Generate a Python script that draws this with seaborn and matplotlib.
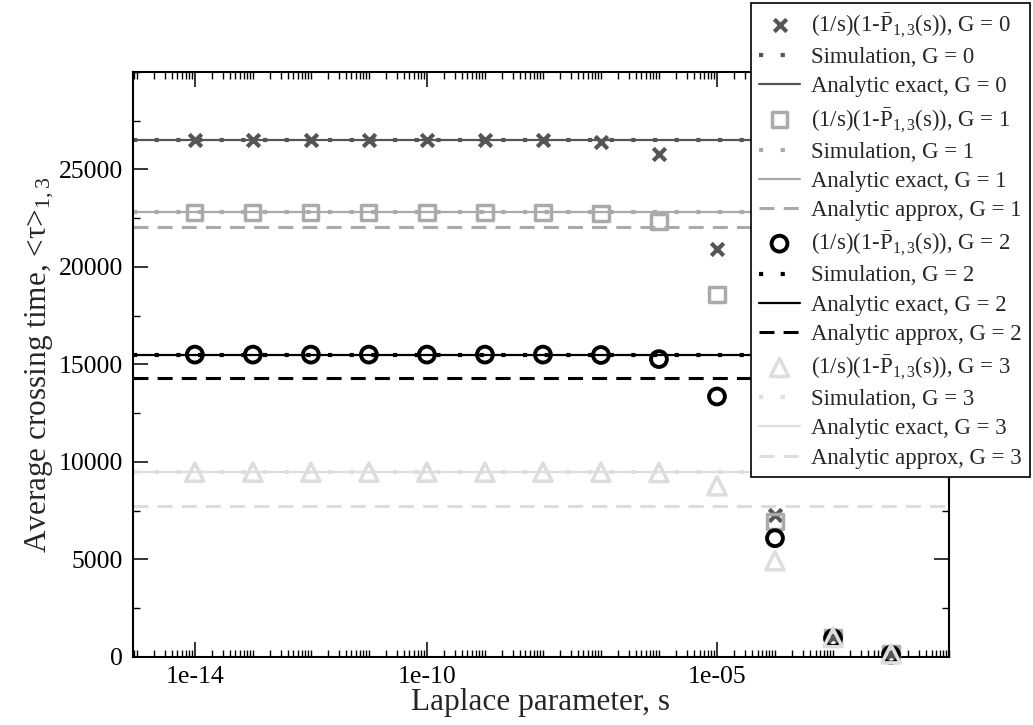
import numpy as np
import pandas as pd
import matplotlib
matplotlib.use("Agg")
import matplotlib.pyplot as plt
from matplotlib.ticker import FixedLocator, LogLocator, MultipleLocator, NullFormatter, FixedFormatter
import seaborn as sns

# ---------------- data ----------------
s_values = [1e-14, 1e-13, 1e-12, 1e-11, 1e-10, 1e-9, 1e-8, 1e-7, 1e-6, 1e-5, 1e-4, 1e-3, 1e-2]

laplace_G0 = [26500, 26500, 26500, 26500, 26500, 26500, 26500, 26420, 25800, 20930, 7280, 1000, 150]
laplace_G1 = [22800, 22800, 22800, 22800, 22800, 22800, 22800, 22750, 22340, 18580, 6930, 980, 140]
laplace_G2 = [15500, 15500, 15500, 15500, 15500, 15500, 15500, 15480, 15270, 13350, 6080, 950, 100]
laplace_G3 = [9470, 9470, 9470, 9470, 9470, 9470, 9470, 9460, 9450, 8770, 4920, 980, 150]

simulation = [26500, 22800, 15500, 9470]       # G = 0..3
analytic_exact = [26500, 22800, 15500, 9470]   # G = 0..3
analytic_approx = [None, 22030, 14300, 7750]   # G = 1..3 (none for G = 0)

G_values = [0, 1, 2, 3]
x_limits = [8.5e-16, 1e-1]
y_limits = [0, 30000]
x_major_ticks = [1e-14, 1e-10, 1e-5]
x_major_labels = ["1e-14", "1e-10", "1e-05"]
y_major_ticks = [0, 5000, 10000, 15000, 20000, 25000]

# ---------------- style ----------------
sns.set_style("ticks")
plt.rcParams["font.family"] = ["Liberation Serif", "DejaVu Serif"]
plt.rcParams["mathtext.fontset"] = "custom"
plt.rcParams["mathtext.rm"] = "Liberation Serif"
plt.rcParams["mathtext.it"] = "Liberation Serif:italic"
plt.rcParams["mathtext.bf"] = "Liberation Serif:bold"

colors = ["#555555", "#aaaaaa", "#000000", "#dddddd"]
markers = ["x", "s", "o", "^"]
marker_sizes = [80, 120, 130, 170]
marker_lw = [3.0, 2.5, 2.8, 2.5]

fig = plt.figure(figsize=(10.33, 7.25), dpi=100)
ax = fig.add_axes([0.1285, 0.0942, 0.7902, 0.8065])

laplace_all = [laplace_G0, laplace_G1, laplace_G2, laplace_G3]
for g, col, mk, ms, mlw in zip(G_values, colors, markers, marker_sizes, marker_lw):
    df = pd.DataFrame({"s": s_values, "tau": laplace_all[g]})
    lab = r"(1/s)(1-$\bar{\mathrm{P}}_{1,3}$(s)), G = %d" % g
    if mk == "x":
        sns.scatterplot(data=df, x="s", y="tau", marker=mk, s=ms, color=col,
                        linewidth=mlw, ax=ax, clip_on=False, zorder=3, label=lab, legend=False)
    else:
        sns.scatterplot(data=df, x="s", y="tau", marker=mk, s=ms, facecolor="none",
                        edgecolor=col, linewidth=mlw, ax=ax, clip_on=False, zorder=3,
                        label=lab, legend=False)
    # simulation (dotted, square dots)
    dsim = pd.DataFrame({"s": x_limits, "tau": [simulation[g]] * 2})
    sns.lineplot(data=dsim, x="s", y="tau", color=col, linewidth=3.0,
                 linestyle=(0, (1, 4.2)), ax=ax, label="Simulation, G = %d" % g, legend=False)
    dex = pd.DataFrame({"s": x_limits, "tau": [analytic_exact[g]] * 2})
    sns.lineplot(data=dex, x="s", y="tau", color=col, linewidth=1.6,
                 linestyle="-", ax=ax, label="Analytic exact, G = %d" % g, legend=False)
    if analytic_approx[g] is not None:
        dap = pd.DataFrame({"s": x_limits, "tau": [analytic_approx[g]] * 2})
        sns.lineplot(data=dap, x="s", y="tau", color=col, linewidth=2.2,
                     linestyle=(0, (4.9, 3.0)), ax=ax,
                     label="Analytic approx, G = %d" % g, legend=False)

ax.set_xscale("log")
ax.set_xlim(*x_limits)
ax.set_ylim(*y_limits)

ax.xaxis.set_major_locator(FixedLocator(x_major_ticks))
ax.xaxis.set_major_formatter(FixedFormatter(x_major_labels))
ax.xaxis.set_minor_locator(LogLocator(base=10, subs=np.arange(1, 10), numticks=100))
ax.xaxis.set_minor_formatter(NullFormatter())
ax.yaxis.set_major_locator(FixedLocator(y_major_ticks))
ax.yaxis.set_minor_locator(MultipleLocator(2500))

for sp in ax.spines.values():
    sp.set_visible(True)
    sp.set_linewidth(1.5)
    sp.set_color("black")

ax.tick_params(which="both", direction="in", top=True, right=True, colors="black")
ax.tick_params(which="major", length=11, width=1.1, labelsize=18.5, pad=7)
ax.tick_params(which="minor", length=5, width=1.0)

ax.set_xlabel("Laplace parameter, s", fontsize=22.5, labelpad=0)
ax.set_ylabel(r"Average crossing time, <τ>$_{1,3}$", fontsize=22.5, labelpad=2)

h, l = ax.get_legend_handles_labels()
leg = ax.legend(h, l, loc="upper right", bbox_to_anchor=(1030 / 1033, 1 - 3 / 725),
                bbox_transform=fig.transFigure, borderaxespad=0, fontsize=16.4,
                frameon=True, fancybox=False, edgecolor="black", framealpha=1,
                handlelength=1.8, handletextpad=0.5, labelspacing=0.36,
                borderpad=0.35, scatterpoints=1)
leg.get_frame().set_linewidth(1.2)
leg.set_zorder(10)

fig.savefig("out.png", dpi=100)
